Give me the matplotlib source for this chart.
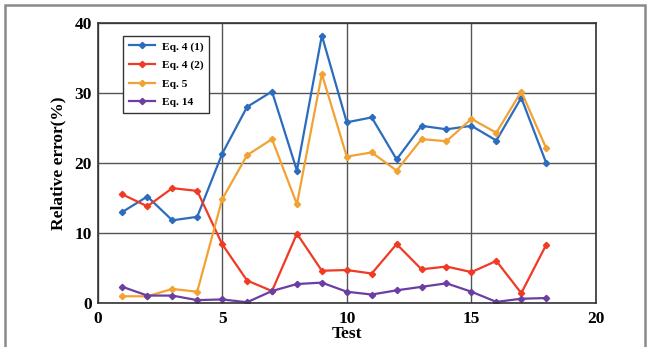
import matplotlib
matplotlib.use("Agg")
import matplotlib.pyplot as plt
from matplotlib.patches import Rectangle

tests = list(range(1, 19))
eq4_1 = [13.0, 15.2, 11.8, 12.3, 21.3, 28.0, 30.2, 18.9, 38.2, 25.8, 26.5, 20.5, 25.3, 24.8, 25.3, 23.2, 29.3, 20.0]
eq4_2 = [15.5, 13.8, 16.4, 16.0, 8.4, 3.2, 1.7, 9.9, 4.6, 4.7, 4.2, 8.4, 4.8, 5.2, 4.4, 6.0, 1.4, 8.3]
eq5 = [0.95, 0.95, 2.0, 1.6, 14.8, 21.1, 23.4, 14.1, 32.7, 20.9, 21.5, 18.9, 23.4, 23.1, 26.3, 24.3, 30.2, 22.1]
eq14 = [2.3, 1.05, 1.05, 0.4, 0.5, 0.1, 1.7, 2.7, 2.9, 1.6, 1.2, 1.8, 2.3, 2.8, 1.6, 0.15, 0.6, 0.7]
labels = ["Eq. 4 (1)", "Eq. 4 (2)", "Eq. 5", "Eq. 14"]
colors = ["#2b6cbf", "#f03a24", "#f2a233", "#6a3ea3"]

plt.rcParams['font.family'] = ['Liberation Serif', 'DejaVu Serif']

fig = plt.figure(figsize=(6.5, 3.47), dpi=100)
ax = fig.add_axes([0.15, 0.127, 0.767, 0.807])

for s, lab, c in zip([eq4_1, eq4_2, eq5, eq14], labels, colors):
    ax.plot(tests, s, color=c, lw=1.6, marker='D', ms=3.2, label=lab)

ax.set_xlim(0, 20)
ax.set_ylim(0, 40)
ax.set_xticks([0, 5, 10, 15, 20])
ax.set_yticks([0, 10, 20, 30, 40])
ax.grid(True, color='#555555', lw=1.0)
ax.set_axisbelow(True)
for sp in ax.spines.values():
    sp.set_color('#333333')
    sp.set_linewidth(1.2)
ax.tick_params(length=0, labelsize=12.5)
ax.tick_params(axis='x', pad=6)
ax.tick_params(axis='y', pad=4)
for t in ax.get_xticklabels() + ax.get_yticklabels():
    t.set_fontweight('bold')
ax.set_xlabel("Test", fontsize=12.5, fontweight='bold', labelpad=-1)
ax.set_ylabel("Relative error(%)", fontsize=12.5, fontweight='bold', labelpad=6)

leg = ax.legend(loc='upper left', bbox_to_anchor=(0.04, 0.975),
                prop={'weight': 'bold', 'size': 8.2}, fancybox=False, framealpha=1,
                edgecolor='#333333', handlelength=2.3, handletextpad=0.6,
                borderpad=0.5, labelspacing=0.75)
leg.get_frame().set_linewidth(1.0)

fig.patches.append(Rectangle((5/650, -0.05), 640/650, 1.05 - 5/347, transform=fig.transFigure,
                             fill=False, edgecolor='#8a8a8a', lw=1.8))

fig.savefig("out.png", dpi=100)
